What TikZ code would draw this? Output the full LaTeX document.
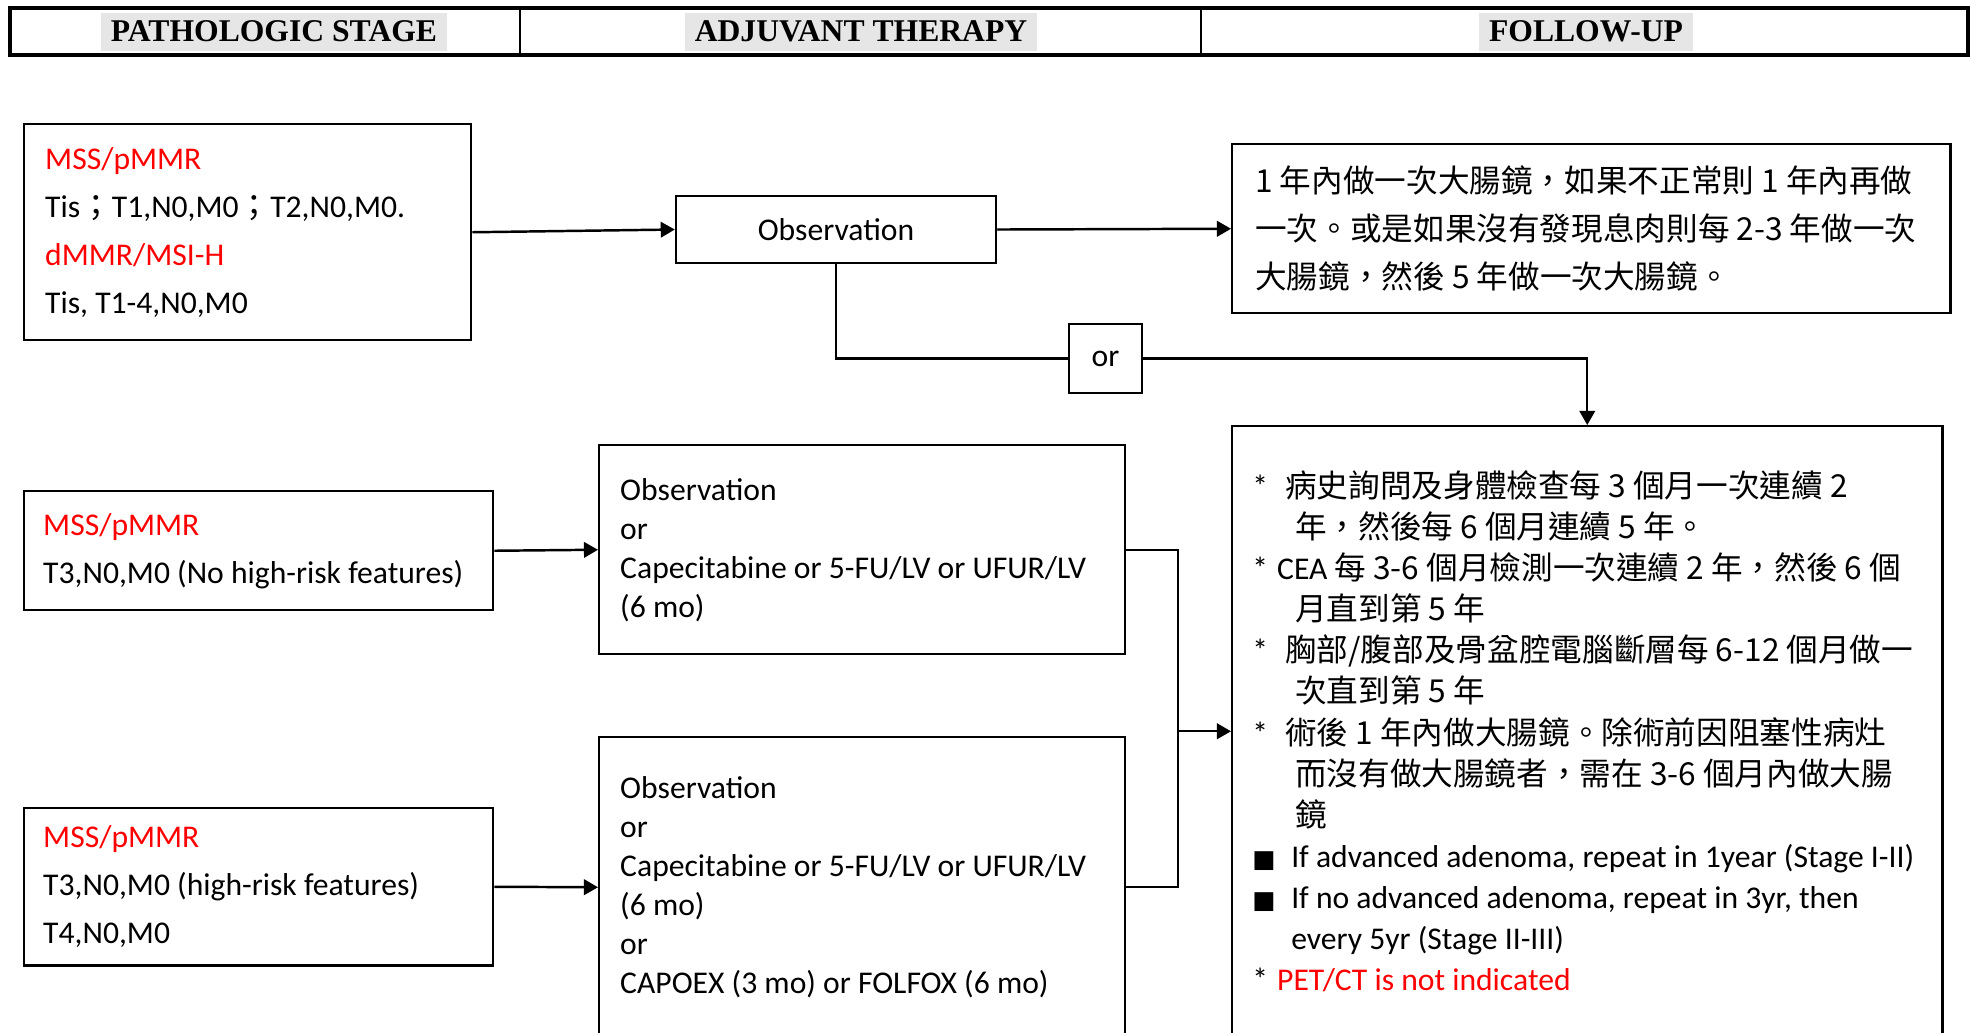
\documentclass[tikz,border=0pt]{standalone}
\usepackage{fontspec}
\setmainfont{Carlito}
\newfontfamily\cjk{Noto Sans CJK TC}
\newfontfamily\headfont{Liberation Serif}
\newfontfamily\symfont{DejaVu Sans}
\usetikzlibrary{arrows.meta,positioning}
\definecolor{hdgray}{HTML}{E7E6E6}

\begin{document}
\begin{tikzpicture}[
  box/.style={draw, line width=0.7pt, anchor=north west, align=flush left, inner xsep=0.210cm, inner ysep=0pt},
  wide/.style={box, font=\fontsize{9}{13.66}\selectfont},
  cjkwide/.style={box, font=\cjk\fontsize{9}{13.66}\selectfont},
  tight/.style={box, font=\fontsize{9}{11.1}\selectfont},
  single/.style={draw, line width=0.7pt, inner sep=0pt, font=\fontsize{9}{11}\selectfont},
  hd/.style={fill=hdgray, inner xsep=0.100cm, inner ysep=0pt, minimum height=0.380cm, font=\headfont\bfseries\fontsize{9}{11}\selectfont},
  flow/.style={line width=0.7pt, -{Triangle[length=4.0pt,width=4.4pt]}},
  branch/.style={line width=0.6pt}
]
\useasboundingbox (0,0) rectangle (19.700,-10.320);
\draw[line width=0.9pt] (0.100,-0.080) rectangle (19.680,-0.550);
\draw[line width=0.5pt] (5.200,-0.080) -- (5.200,-0.550);
\draw[line width=0.5pt] (12.010,-0.080) -- (12.010,-0.550);
\node[hd] (hdStage) at (2.740,-0.315) {PATHOLOGIC STAGE};
\node[hd] (hdTherapy) at (8.610,-0.315) {ADJUVANT THERAPY};
\node[hd] (hdFollow) at (15.860,-0.315) {FOLLOW-UP};
\node[wide, text width=4.050cm, minimum height=2.160cm] (stA) at (0.230,-1.230) {\textcolor{red}{MSS/pMMR}\\ Tis{\cjk ；}T1,N0,M0{\cjk ；}T2,N0,M0.\\ \textcolor{red}{dMMR/MSI-H}\\ Tis, T1-4,N0,M0};
\node[wide, inner xsep=0.190cm, text width=4.310cm, minimum height=1.190cm] (stB) at (0.230,-4.900) {\textcolor{red}{MSS/pMMR}\\ T3,N0,M0 (No high-risk features)};
\node[wide, inner xsep=0.190cm, text width=4.310cm, minimum height=1.570cm] (stC) at (0.230,-8.070) {\textcolor{red}{MSS/pMMR}\\ T3,N0,M0 (high-risk features)\\ T4,N0,M0};
\node[single, minimum width=3.200cm, minimum height=0.670cm] (obs) at (8.360,-2.295) {Observation};
\node[single, minimum width=0.730cm, minimum height=0.690cm] (orBox) at (11.055,-3.585) {or};
\node[tight, text width=4.840cm, minimum height=2.090cm] (adjA) at (5.980,-4.440) {Observation\\ or\\ Capecitabine or 5-FU/LV or UFUR/LV\\ (6 mo)};
\node[tight, text width=4.840cm, minimum height=3.000cm] (adjB) at (5.980,-7.360) {Observation\\ or\\ Capecitabine or 5-FU/LV or UFUR/LV\\ (6 mo)\\ or\\ CAPOEX (3 mo) or FOLFOX (6 mo)};
\node[cjkwide, inner xsep=0.230cm, text width=6.720cm, minimum height=1.690cm] (colon) at (12.310,-1.430) {1 年內做一次大腸鏡，如果不正常則 1 年內再做\\ 一次。或是如果沒有發現息肉則每 2-3 年做一次\\ 大腸鏡，然後 5 年做一次大腸鏡。};
\node[box, font=\fontsize{9}{11.67}\selectfont, inner xsep=0.200cm, text width=6.700cm, minimum height=6.100cm] (follow) at (12.310,-4.250) {\makebox[9.4pt][l]{*}{\cjk 病史詢問及身體檢查每 3 個月一次連續 2}\\
\hspace*{12.2pt}{\cjk 年，然後每 6 個月連續 5 年。}\\
\makebox[7.1pt][l]{*}CEA {\cjk 每 3-6 個月檢測一次連續 2 年，然後 6 個}\\
\hspace*{12.2pt}{\cjk 月直到第 5 年}\\
\makebox[9.4pt][l]{*}{\cjk 胸部/腹部及骨盆腔電腦斷層每 6-12 個月做一}\\
\hspace*{12.2pt}{\cjk 次直到第 5 年}\\
\makebox[9.4pt][l]{*}{\cjk 術後 1 年內做大腸鏡。除術前因阻塞性病灶}\\
\hspace*{12.2pt}{\cjk 而沒有做大腸鏡者，需在 3-6 個月內做大腸}\\
\hspace*{12.2pt}{\cjk 鏡}\\
\makebox[11.1pt][l]{\symfont\fontsize{7}{7}\selectfont ■}If advanced adenoma, repeat in 1year (Stage I-II)\\
\makebox[11.1pt][l]{\symfont\fontsize{7}{7}\selectfont ■}If no advanced adenoma, repeat in 3yr, then\\
\hspace*{11.1pt}every 5yr (Stage II-III)\\
\makebox[7.1pt][l]{*}\textcolor{red}{PET/CT is not indicated}};
\draw[flow] (stA.east) -- (obs.west);
\draw[flow] (obs.east) -- (colon.west);
\draw[branch] (obs.south) |- (orBox.west);
\draw[flow, line width=0.6pt] (orBox.east) -| (follow.north);
\draw[flow] (stB.east) -- (adjA.west);
\draw[flow] (stC.east) -- (adjB.west);
\coordinate[left=0.530cm of follow.west] (merge);
\draw[line width=0.7pt] (adjA.east) -| (merge) |- (adjB.east);
\draw[flow] (merge) -- (follow.west);
\end{tikzpicture}
\end{document}
